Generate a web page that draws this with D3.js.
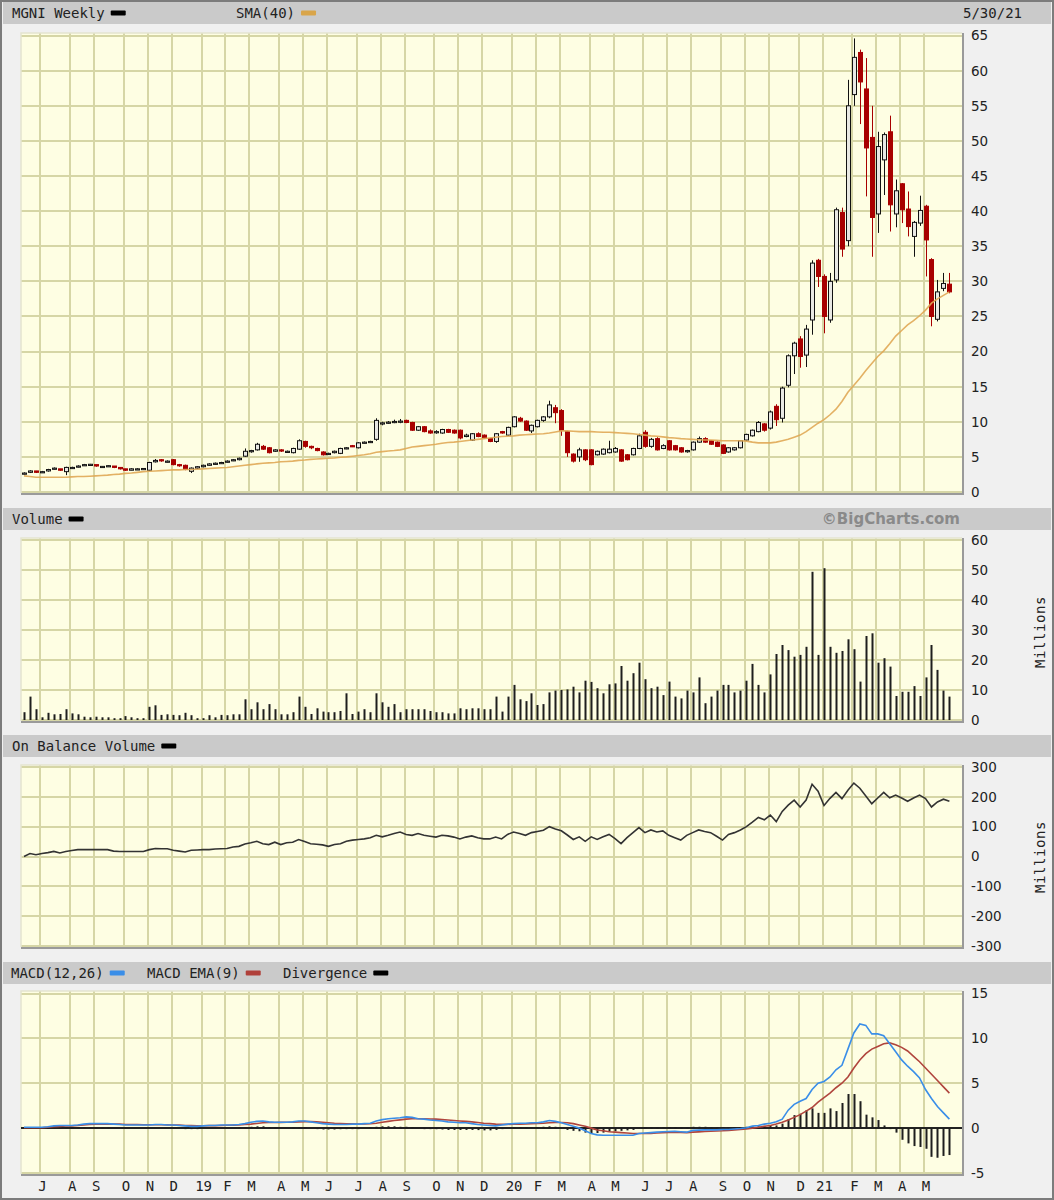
<!DOCTYPE html>
<html>
<head>
<meta charset="utf-8">
<script src="https://cdnjs.cloudflare.com/ajax/libs/d3/7.8.5/d3.min.js"></script>
<style>
  body { margin: 0; background: #f0f0f0; }
  text { fill: #222; }
</style>
</head>
<body>
<div id="chart"></div>
<script>
// MGNI weekly, 156 weeks (week of 6/10/18 .. week of 5/30/21)
const weekOpen = [
  2.6,2.8,3.0,2.8,3.0,3.3,3.3,2.9,3.4,3.6,
  3.8,3.85,3.9,3.6,3.65,3.7,3.5,3.3,3.1,3.25,
  3.25,3.1,4.3,4.6,4.35,4.6,3.9,3.8,2.95,3.4,
  3.6,3.8,4.0,4.1,4.25,4.5,4.6,5.1,5.8,6.0,
  6.5,6.3,5.8,6.0,5.75,5.6,6.1,7.2,6.5,6.2,
  5.7,5.35,5.6,5.5,6.2,6.6,6.3,7.0,7.1,7.5,
  9.7,9.8,9.9,10.0,10.2,9.9,8.8,9.3,8.7,8.5,
  8.4,8.9,8.8,8.8,7.9,7.4,8.3,8.1,7.6,7.2,
  8.6,8.1,9.3,10.5,10.1,8.7,9.3,10.2,10.7,12.0,
  11.6,8.6,5.4,5.0,6.0,6.0,5.3,5.4,5.6,5.7,
  6.0,5.3,5.3,6.2,8.5,6.5,7.6,6.2,7.3,6.6,
  6.3,5.8,6.0,7.1,7.6,7.3,7.1,6.7,5.7,6.0,
  6.3,7.4,8.0,8.6,9.7,9.1,12.2,10.5,15.2,19.4,
  21.8,19.5,24.5,33.0,30.7,24.5,30.2,39.8,35.8,56.6,
  62.6,57.4,50.5,39.6,47.3,51.3,39.6,43.9,40.3,36.4,
  38.3,40.7,33.1,24.6,29.0,29.6
];
const weekHigh = [
  2.8,3.1,3.0,3.0,3.3,3.5,3.3,3.6,3.6,3.8,
  4.0,4.0,3.9,3.7,3.8,3.7,3.5,3.3,3.4,3.4,
  3.4,4.3,4.7,4.7,4.5,4.7,4.0,3.9,3.5,3.7,
  3.9,4.1,4.2,4.3,4.5,4.7,4.9,6.2,6.0,7.0,
  6.7,6.4,6.1,6.1,5.9,6.3,7.5,7.3,6.6,6.3,
  5.8,5.6,5.9,6.3,6.4,6.7,7.1,7.2,7.3,10.5,
  10.0,10.1,10.3,10.4,10.3,10.0,9.4,9.4,8.9,8.8,
  9.0,9.0,8.9,8.9,8.3,8.4,8.5,8.2,7.7,8.4,
  8.7,9.3,10.8,10.7,10.2,9.6,10.3,10.8,13.0,12.4,
  11.8,8.7,5.5,6.3,6.1,6.1,5.9,6.2,7.3,6.4,
  6.1,5.4,6.3,8.3,8.8,7.7,7.8,6.8,7.4,6.7,
  6.4,6.0,7.2,7.9,7.8,7.4,7.2,6.8,6.4,6.4,
  7.4,8.3,8.9,10.1,9.8,11.6,12.5,15.0,19.6,21.4,
  22.2,23.8,33.0,33.2,31.0,31.2,40.5,40.5,58.7,64.6,
  63.0,61.8,55.0,51.3,51.2,53.6,44.5,44.0,42.8,38.6,
  42.2,40.9,33.3,30.2,31.2,31.2
];
const weekLow = [
  2.5,2.7,2.7,2.7,2.9,3.2,3.0,2.4,3.3,3.5,
  3.7,3.8,3.6,3.5,3.6,3.4,3.2,3.0,3.1,3.2,
  3.2,3.0,4.2,4.3,4.2,3.8,3.6,3.1,2.7,3.3,
  3.5,3.75,3.9,4.0,4.2,4.4,4.5,5.0,5.6,5.9,
  6.0,5.5,5.7,5.7,5.6,5.5,6.0,6.3,6.1,5.8,
  5.2,5.3,5.5,5.4,6.1,6.4,6.2,6.9,7.0,7.3,
  9.5,9.7,9.8,9.8,9.8,8.7,8.7,8.5,8.3,8.3,
  8.3,8.4,8.3,7.5,7.8,7.3,7.8,7.6,7.1,7.0,
  8.3,8.0,9.2,10.0,8.7,8.4,9.2,10.0,10.5,9.8,
  8.0,5.0,4.2,4.3,4.4,3.8,5.2,5.3,5.5,5.6,
  4.3,4.5,5.2,6.1,6.3,6.3,5.9,6.1,5.9,5.9,
  5.6,5.6,5.9,7.0,7.0,6.7,6.4,5.4,5.6,5.9,
  6.2,7.3,7.9,8.5,8.6,8.9,9.4,9.9,14.9,16.8,
  17.7,17.8,22.4,29.2,22.6,24.1,29.8,33.5,35.0,55.0,
  52.4,42.1,33.5,36.9,42.3,37.1,37.7,38.3,36.4,33.5,
  37.9,30.7,23.6,24.3,28.6,28.3
];
const weekClose = [
  2.7,3.0,2.8,2.9,3.2,3.4,3.1,3.5,3.5,3.7,
  3.9,3.95,3.7,3.65,3.75,3.5,3.3,3.1,3.3,3.3,
  3.35,4.2,4.5,4.45,4.4,3.9,3.75,3.2,3.4,3.6,
  3.8,4.0,4.1,4.2,4.4,4.6,4.8,5.8,5.9,6.8,
  6.1,5.6,6.0,5.85,5.8,6.2,7.3,6.5,6.3,5.9,
  5.3,5.5,5.8,6.2,6.3,6.45,7.0,7.1,7.2,10.2,
  9.85,9.95,10.05,10.1,9.9,8.8,9.3,8.6,8.4,8.6,
  8.9,8.5,8.4,7.7,8.1,8.3,7.9,7.7,7.2,8.3,
  8.4,9.2,10.7,10.1,8.8,9.5,10.2,10.7,12.4,11.3,
  8.8,5.6,4.4,6.0,4.6,3.9,5.8,6.1,6.1,6.2,
  4.4,4.6,6.2,8.0,6.5,7.5,6.0,6.6,6.0,6.0,
  5.7,5.9,7.1,7.6,7.1,6.8,6.5,5.5,6.3,6.3,
  7.3,8.2,8.8,9.9,8.8,11.4,10.3,14.8,19.4,21.2,
  19.3,23.2,32.6,30.7,25.0,30.0,40.2,34.6,55.0,61.9,
  58.4,49.0,39.1,49.2,50.9,40.9,42.9,40.2,37.8,38.4,
  40.1,35.9,25.0,28.5,29.7,28.5
];
const sma40 = [
  2.3,2.2,2.1,2.1,2.1,2.1,2.1,2.1,2.15,2.2,
  2.2,2.25,2.3,2.35,2.4,2.5,2.55,2.65,2.7,2.8,
  2.9,2.95,3.0,3.05,3.1,3.15,3.15,3.2,3.2,3.25,
  3.3,3.35,3.4,3.45,3.5,3.6,3.7,3.8,3.9,4.0,
  4.1,4.15,4.2,4.3,4.35,4.4,4.5,4.55,4.65,4.7,
  4.75,4.8,4.85,4.95,5.0,5.1,5.2,5.3,5.45,5.65,
  5.75,5.85,5.9,6.0,6.2,6.4,6.5,6.6,6.7,6.8,
  6.95,7.05,7.1,7.2,7.3,7.4,7.5,7.6,7.7,7.8,
  7.9,7.95,8.0,8.1,8.15,8.2,8.25,8.3,8.4,8.55,
  8.7,8.7,8.65,8.6,8.6,8.6,8.55,8.5,8.5,8.45,
  8.4,8.35,8.3,8.2,8.1,8.0,7.95,7.85,7.75,7.7,
  7.6,7.55,7.5,7.45,7.4,7.4,7.35,7.3,7.3,7.3,
  7.3,7.25,7.1,7.0,7.0,7.0,7.1,7.3,7.5,7.8,
  8.1,8.6,9.2,9.8,10.3,11.0,11.8,12.9,14.2,15.2,
  16.2,17.3,18.3,19.3,20.1,21.1,22.2,23.0,23.8,24.4,
  25.1,25.9,26.9,27.5,28.0,28.5
];
// millions of shares
const volume = [
  2.6,7.8,3.6,0.9,2.4,1.9,2.0,3.6,2.2,1.9,
  1.1,0.9,1.1,0.9,0.9,0.6,0.6,1.3,0.9,0.6,
  0.6,4.4,4.9,1.7,1.9,1.7,1.6,2.4,1.6,0.6,
  0.6,1.6,0.9,1.7,1.6,1.9,1.9,6.9,3.6,5.9,
  3.6,5.3,3.6,1.9,1.9,2.6,7.8,4.4,2.0,3.9,
  2.8,2.6,2.6,3.0,8.9,2.0,2.8,3.6,2.6,8.9,
  5.9,4.4,5.3,2.6,3.6,3.6,3.6,3.6,3.0,2.6,
  2.6,2.2,2.2,3.9,3.6,3.9,3.9,3.6,3.6,7.8,
  2.8,7.8,11.7,6.9,6.3,8.9,5.0,5.3,9.2,9.8,
  10.0,10.2,11.1,9.2,13.1,12.7,10.6,8.9,11.9,12.2,
  18.0,13.1,15.6,19.1,13.6,10.6,11.1,8.3,12.8,7.8,
  7.2,9.8,9.2,14.2,5.6,7.8,9.8,11.7,11.7,9.2,
  9.8,13.1,18.7,11.7,9.2,15.2,22.0,25.0,23.3,21.1,
  21.7,24.4,49.4,21.7,50.6,24.4,22.4,23.0,26.9,23.6,
  12.8,28.0,28.9,19.1,20.6,17.8,8.0,9.4,9.4,11.3,
  8.0,14.2,25.0,16.7,9.8,7.8
];
const obv = [
  0,10,6,10,13,17,12,17,20,23,
  23,23,23,23,23,18,17,17,17,17,
  17,23,27,26,26,21,18,15,21,22,
  23,23,25,26,27,32,34,42,46,51,
  43,40,48,40,46,48,57,50,43,41,
  39,34,40,43,51,55,57,59,63,71,
  66,71,77,82,74,71,77,71,68,65,
  71,69,65,59,65,69,63,59,59,65,
  59,74,82,77,71,80,84,88,100,92,
  86,72,57,66,51,66,57,66,74,60,
  43,63,80,97,80,89,82,86,71,63,
  55,71,80,89,84,80,68,55,74,80,
  89,100,115,131,123,139,117,151,172,189,
  166,189,242,219,171,195,215,194,222,246,
  229,203,177,196,215,197,206,196,185,196,
  206,194,166,183,192,185
];
const macdLine = [
  0.1,0.1,0.1,0.1,0.15,0.25,0.3,0.3,0.3,0.35,
  0.45,0.5,0.5,0.5,0.5,0.45,0.4,0.35,0.35,0.35,
  0.35,0.35,0.4,0.4,0.35,0.35,0.3,0.25,0.2,0.2,
  0.25,0.3,0.3,0.35,0.35,0.35,0.4,0.5,0.65,0.75,
  0.8,0.7,0.65,0.65,0.65,0.7,0.8,0.8,0.7,0.6,
  0.5,0.45,0.4,0.4,0.4,0.45,0.45,0.5,0.55,0.8,
  0.95,1.05,1.1,1.15,1.25,1.2,1.05,1.0,0.9,0.85,
  0.8,0.7,0.65,0.6,0.6,0.5,0.4,0.35,0.3,0.25,
  0.35,0.45,0.5,0.55,0.55,0.6,0.6,0.7,0.85,0.75,
  0.6,0.4,0.2,0.0,-0.3,-0.6,-0.75,-0.8,-0.8,-0.8,
  -0.8,-0.8,-0.8,-0.6,-0.55,-0.5,-0.45,-0.4,-0.37,-0.35,
  -0.4,-0.45,-0.25,-0.22,-0.2,-0.2,-0.2,-0.15,-0.15,-0.1,
  -0.05,0.05,0.22,0.3,0.45,0.55,0.7,1.0,2.0,2.65,
  3.0,3.3,4.3,5.0,5.2,5.7,6.5,7.0,8.8,10.6,
  11.6,11.45,10.5,10.5,10.3,9.4,8.5,7.6,6.9,6.3,
  5.6,4.3,3.3,2.4,1.7,1.0
];
const macdEma = [
  0.05,0.05,0.05,0.05,0.1,0.15,0.2,0.25,0.25,0.3,
  0.35,0.4,0.45,0.45,0.45,0.45,0.45,0.4,0.4,0.4,
  0.38,0.37,0.37,0.37,0.36,0.35,0.33,0.3,0.28,0.27,
  0.27,0.28,0.28,0.3,0.32,0.33,0.35,0.4,0.45,0.52,
  0.6,0.62,0.63,0.64,0.65,0.66,0.7,0.72,0.72,0.7,
  0.65,0.6,0.55,0.52,0.48,0.47,0.46,0.46,0.48,0.55,
  0.65,0.75,0.85,0.92,1.0,1.05,1.05,1.05,1.02,1.0,
  0.95,0.9,0.85,0.8,0.75,0.7,0.62,0.55,0.5,0.45,
  0.42,0.42,0.43,0.45,0.47,0.5,0.52,0.55,0.6,0.62,
  0.62,0.6,0.5,0.35,0.2,0.0,-0.2,-0.3,-0.4,-0.45,
  -0.5,-0.55,-0.6,-0.6,-0.6,-0.58,-0.55,-0.5,-0.48,-0.47,
  -0.48,-0.5,-0.45,-0.42,-0.38,-0.35,-0.32,-0.3,-0.25,-0.2,
  -0.15,-0.1,0.0,0.1,0.2,0.3,0.45,0.65,0.9,1.2,
  1.5,1.9,2.3,2.9,3.4,3.9,4.5,5.0,5.7,6.7,
  7.6,8.3,8.8,9.1,9.4,9.5,9.3,9.0,8.6,8.0,
  7.4,6.7,6.0,5.3,4.6,3.9
];
const divergence = [
  0,0.05,0.05,0.05,0.05,0.1,0.1,0.05,0.05,0.05,
  0.1,0.1,0.05,0.05,0.05,0,0,0,0,0,
  0,0,0,0,0,0,0,-0.05,-0.1,-0.1,
  0,0,0,0,0,0,0.05,0.1,0.15,0.2,
  0.2,0.1,0.05,0,0,0.05,0.1,0.1,0,-0.1,
  -0.15,-0.15,-0.15,-0.12,-0.1,-0.05,-0.05,0,0.05,0.15,
  0.2,0.2,0.2,0.15,0.15,0.1,0,-0.05,-0.1,-0.12,
  -0.15,-0.2,-0.2,-0.2,-0.2,-0.2,-0.22,-0.25,-0.25,-0.2,
  -0.1,0,0.05,0.1,0.1,0.1,0.1,0.15,0.2,0.15,
  0,-0.2,-0.3,-0.35,-0.5,-0.6,-0.55,-0.5,-0.4,-0.35,
  -0.3,-0.25,-0.2,0,0.05,0.05,0.05,0.1,0.1,0.1,
  0.05,0.05,0.15,0.15,0.15,0.12,0.1,0.12,0.1,0.1,
  0.1,0.15,0.2,0.2,0.25,0.25,0.3,0.5,1.0,1.45,
  1.6,2.0,2.2,1.7,1.7,2.2,1.9,2.8,3.8,3.8,
  3.0,1.5,1.2,0.9,0.3,-0.1,-0.5,-1.3,-1.7,-2.0,
  -2.1,-2.3,-3.2,-3.3,-3.1,-3.0
];
const monthLabels = ["J","A","S","O","N","D","19","F","M","A","M","J",
                     "J","A","S","O","N","D","20","F","M","A","M","J",
                     "J","A","S","O","N","D","21","F","M","A","M"];
const priceTicks = [0,5,10,15,20,25,30,35,40,45,50,55,60,65];
const volumeTicks = [0,10,20,30,40,50,60];
const obvTicks = [-300,-200,-100,0,100,200,300];
const macdTicks = [-5,0,5,10,15];

const W = 1054, H = 1200;
const left = 21, right = 962;
const mono = "'DejaVu Sans Mono', monospace";
const sans = "'DejaVu Sans', Verdana, sans-serif";

const weeks = d3.timeSunday.range(new Date(2018, 5, 10), new Date(2021, 4, 31));
const bars = weeks.map((d, i) => ({
  date: d, o: weekOpen[i], h: weekHigh[i], l: weekLow[i], c: weekClose[i],
  sma: sma40[i], vol: volume[i], obv: obv[i],
  macd: macdLine[i], ema: macdEma[i], div: divergence[i]
}));
const monthStarts = weeks.filter((d, i) => i > 0 && d.getMonth() !== weeks[i - 1].getMonth());

const x = d3.scaleTime()
  .domain([weeks[0], weeks[weeks.length - 1]])
  .range([24, 949.4]);

const svg = d3.select("#chart").append("svg")
  .attr("width", W)
  .attr("height", H)
  .style("font-family", mono);

svg.append("rect").attr("x", 0).attr("y", 0).attr("width", W).attr("height", H).attr("fill", "#f0f0f0");

// header bars
function header(y, items, rightText, rightStyle) {
  const g = svg.append("g");
  g.append("rect").attr("x", 3).attr("y", y).attr("width", W - 6).attr("height", 22).attr("fill", "#cacaca");
  items.forEach(it => {
    const t = g.append("text").attr("x", it.x).attr("y", y + 15.5)
      .attr("font-size", 14).attr("font-family", mono).text(it.label);
    const w = t.node().getComputedTextLength();
    g.append("rect").attr("x", it.x + w + 6).attr("y", y + 8.5).attr("width", 15).attr("height", 5)
      .attr("rx", 1).attr("fill", it.color);
  });
  if (rightText) {
    const t = g.append("text").attr("x", rightStyle.x).attr("y", y + 16)
      .attr("text-anchor", "end").text(rightText);
    t.attr("font-size", rightStyle.size).attr("font-family", rightStyle.font)
      .attr("font-weight", rightStyle.weight || "normal")
      .style("fill", rightStyle.fill || "#222");
  }
}

header(2, [{x: 12, label: "MGNI Weekly", color: "#000"}, {x: 236, label: "SMA(40)", color: "#d9a54a"}],
  "5/30/21", {x: 1022, size: 14, font: mono});
header(508, [{x: 12, label: "Volume", color: "#000"}],
  "©BigCharts.com", {x: 960, size: 15, font: sans, weight: "bold", fill: "#8a8a8a"});
header(735, [{x: 12, label: "On Balance Volume", color: "#000"}]);
header(962, [{x: 11, label: "MACD(12,26)", color: "#3a8ee8"},
             {x: 147, label: "MACD EMA(9)", color: "#b0403a"},
             {x: 283, label: "Divergence", color: "#000"}]);

// panel frame + grid
function panel(top, bottom, y, ticks, fmt) {
  const g = svg.append("g");
  g.append("rect").attr("x", left).attr("y", top).attr("width", right - left).attr("height", bottom - top)
    .attr("fill", "#fefee3");
  g.append("g").selectAll("line").data(ticks).join("line")
    .attr("x1", left).attr("x2", right)
    .attr("y1", d => Math.round(y(d))).attr("y2", d => Math.round(y(d)))
    .attr("stroke", "#d6d6a6").attr("stroke-width", 2).attr("shape-rendering", "crispEdges");
  g.append("g").selectAll("line").data(monthStarts).join("line")
    .attr("x1", d => Math.round(x(d) - 1.5)).attr("x2", d => Math.round(x(d) - 1.5))
    .attr("y1", top).attr("y2", bottom)
    .attr("stroke", "#d6d6a6").attr("stroke-width", 2).attr("shape-rendering", "crispEdges");
  // inset border
  g.append("path").attr("d", `M${left},${bottom}V${top}H${right}`)
    .attr("fill", "none").attr("stroke", "#e4e4d0").attr("stroke-width", 1.5);
  g.append("path").attr("d", `M${left},${bottom + 1}H${right + 1}V${top}`)
    .attr("fill", "none").attr("stroke", "#9a9a9a").attr("stroke-width", 2);

  const axis = d3.axisRight(y).tickValues(ticks).tickSize(0).tickPadding(9)
    .tickFormat(fmt || (d => String(d)));
  const ag = svg.append("g").attr("transform", `translate(${right},0)`).call(axis);
  ag.select(".domain").remove();
  ag.selectAll("text").attr("font-size", 13.5).attr("font-family", sans).style("fill", "#222");
  return g;
}

function millions(cy) {
  svg.append("text")
    .attr("transform", `translate(1045,${cy}) rotate(-90)`)
    .attr("text-anchor", "middle")
    .attr("font-size", 14).attr("font-family", mono).attr("letter-spacing", 0.6)
    .text("Millions");
}

// ---- price panel
const yPrice = d3.scaleLinear().domain([0, 65]).range([492, 35.6]);
panel(33, 493, yPrice, priceTicks);

const candles = svg.append("g");
candles.selectAll("line").data(bars).join("line")
  .attr("x1", d => Math.round(x(d.date)) + 0.5).attr("x2", d => Math.round(x(d.date)) + 0.5)
  .attr("y1", d => yPrice(d.h)).attr("y2", d => yPrice(d.l))
  .attr("stroke", d => d.c >= d.o ? "#111" : "#a80000").attr("stroke-width", 1);
candles.selectAll("rect").data(bars).join("rect")
  .attr("x", d => Math.round(x(d.date)) - 1.5)
  .attr("y", d => yPrice(Math.max(d.o, d.c)))
  .attr("width", 4)
  .attr("height", d => Math.max(1.2, yPrice(Math.min(d.o, d.c)) - yPrice(Math.max(d.o, d.c))))
  .attr("fill", d => d.c >= d.o ? "#e9e9e4" : "#a80000")
  .attr("stroke", d => d.c >= d.o ? "#111" : "#a80000")
  .attr("stroke-width", 1);

svg.append("path").datum(bars)
  .attr("fill", "none").attr("stroke", "#e0a955").attr("stroke-width", 1.6).attr("stroke-opacity", 0.9)
  .attr("d", d3.line().x(d => x(d.date)).y(d => yPrice(d.sma)));

// ---- volume panel
const yVol = d3.scaleLinear().domain([0, 60]).range([720, 540]);
panel(538, 721, yVol, volumeTicks);
svg.append("g").selectAll("rect").data(bars).join("rect")
  .attr("x", d => Math.round(x(d.date)) - 0.5)
  .attr("y", d => yVol(d.vol))
  .attr("width", 2)
  .attr("height", d => yVol(0) - yVol(d.vol))
  .attr("fill", "#1e1e1e");
millions(632);

// ---- on balance volume
const yObv = d3.scaleLinear().domain([-300, 300]).range([946, 767]);
panel(765, 947, yObv, obvTicks);
svg.append("path").datum(bars)
  .attr("fill", "none").attr("stroke", "#333").attr("stroke-width", 1.6)
  .attr("d", d3.line().x(d => x(d.date)).y(d => yObv(d.obv)));
millions(857);

// ---- MACD
const yMacd = d3.scaleLinear().domain([-5, 15]).range([1173, 993.5]);
panel(991, 1174, yMacd, macdTicks, d => String(d));
svg.append("line").attr("x1", left).attr("x2", right)
  .attr("y1", Math.round(yMacd(0))).attr("y2", Math.round(yMacd(0)))
  .attr("stroke", "#222").attr("stroke-width", 2).attr("shape-rendering", "crispEdges");
svg.append("g").selectAll("rect").data(bars.filter(d => d.div !== 0)).join("rect")
  .attr("x", d => Math.round(x(d.date)) - 0.5)
  .attr("y", d => yMacd(Math.max(0, d.div)))
  .attr("width", 2)
  .attr("height", d => Math.max(1, Math.abs(yMacd(d.div) - yMacd(0))))
  .attr("fill", "#1e1e1e");
svg.append("path").datum(bars)
  .attr("fill", "none").attr("stroke", "#b0453d").attr("stroke-width", 1.6)
  .attr("d", d3.line().x(d => x(d.date)).y(d => yMacd(d.ema)));
svg.append("path").datum(bars)
  .attr("fill", "none").attr("stroke", "#3a8ee8").attr("stroke-width", 1.6)
  .attr("d", d3.line().x(d => x(d.date)).y(d => yMacd(d.macd)));

// ---- month axis
const xAxis = d3.axisBottom(x).tickValues(monthStarts).tickSize(0).tickPadding(7)
  .tickFormat((d, i) => monthLabels[i]);
const xg = svg.append("g").attr("transform", "translate(0,1174)").call(xAxis);
xg.select(".domain").remove();
xg.selectAll("text").attr("font-size", 14).attr("font-family", mono).style("fill", "#222");

// outer frame
svg.append("rect").attr("x", 1).attr("y", 1).attr("width", W - 2).attr("height", H - 2)
  .attr("fill", "none").attr("stroke", "#7c7c7c").attr("stroke-width", 2);
</script>
</body>
</html>
